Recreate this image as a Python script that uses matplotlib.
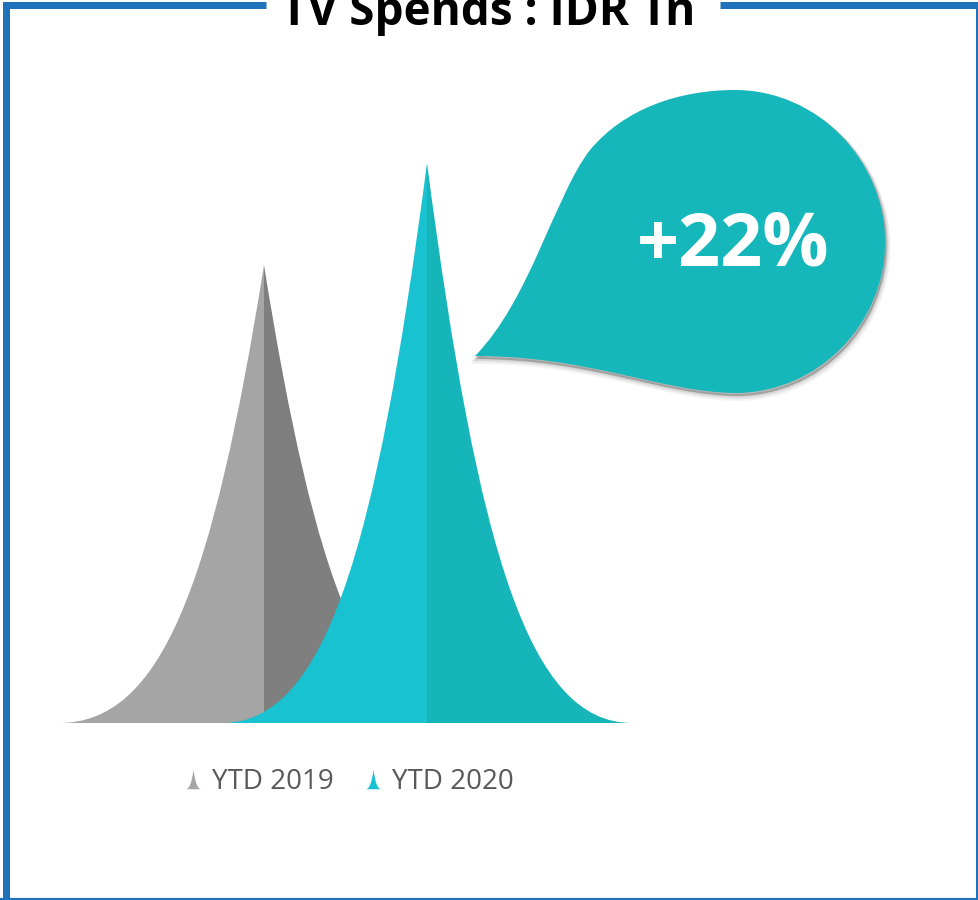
import numpy as np
import matplotlib.pyplot as plt
from matplotlib.path import Path
from matplotlib.patches import PathPatch
from matplotlib.lines import Line2D

# data: TV spends (IDR Tn)
periods = ["YTD 2019", "YTD 2020"]
spends = [45.8, 56.0]
light_colors = ["#A5A5A5", "#18C2D0"]
dark_colors = ["#7F7F7F", "#15B5BA"]

growth = (spends[1] / spends[0] - 1) * 100
growth_label = "+{:.0f}%".format(growth)

W, H = 979, 900
fig = plt.figure(figsize=(W / 100, H / 100), dpi=100)

# main axes: baseline at y=723px, 10 px per unit
ax = fig.add_axes([19.5 / W, (H - 723) / H, 652 / W, 600 / H])
ax.set_xlim(-1.5, 2.5)
ax.set_ylim(0, 60)
ax.axis("off")

# bezier profile of the spike (u = half width fraction, v = height fraction)
prof = [(1.0, 0.0), (0.5, 0.0), (0.25, 0.3), (0.0, 1.0)]
half_w = 1.258


def spike_half(xc, h, side):
    verts = [(xc, 0)]
    for u, v in prof:
        verts.append((xc + side * half_w * u, h * v))
    verts.append((xc, 0))
    codes = [Path.MOVETO, Path.LINETO, Path.CURVE4, Path.CURVE4, Path.CURVE4,
             Path.CLOSEPOLY]
    return Path(verts, codes)


for i, val in enumerate(spends):
    ax.add_patch(PathPatch(spike_half(i, val, -1), fc=light_colors[i], ec="none",
                           zorder=2 + i * 2))
    ax.add_patch(PathPatch(spike_half(i, val, 1), fc=dark_colors[i], ec="none",
                           zorder=2 + i * 2))

# overlay in pixel coords for frame and bubble
ov = fig.add_axes([0, 0, 1, 1], zorder=5)
ov.set_xlim(0, W)
ov.set_ylim(H, 0)
ov.axis("off")
ov.patch.set_alpha(0)

blue = "#1F71BA"
lw = 7 * 0.72
ov.plot([6, 6], [5, 902], color=blue, lw=lw, solid_capstyle="projecting")
ov.plot([6, 266], [5, 5], color=blue, lw=lw, solid_capstyle="butt")
ov.plot([720, 982], [5, 5], color=blue, lw=lw, solid_capstyle="butt")
ov.plot([979, 979], [5, 902], color=blue, lw=lw, solid_capstyle="butt")
ov.plot([0, 982], [900, 900], color=blue, lw=3, solid_capstyle="butt")

fig.text(488 / W, 1 - 25 / H, "TV Spends : IDR Tn", ha="center", va="baseline",
         fontsize=33, fontweight="bold", family="Open Sans", color="black")

# speech bubble
bverts = [(475, 356),
          (530, 300), (555, 195), (590, 150),
          (625, 108), (680, 90), (735, 90),
          (817, 90), (885, 160), (885, 242),
          (885, 325), (817, 393), (735, 393),
          (660, 392), (590, 356), (475, 356),
          (475, 356)]
bcodes = [Path.MOVETO] + [Path.CURVE4] * 15 + [Path.CLOSEPOLY]
bpath = Path(bverts, bcodes)

for k, a in [(5, 0.06), (4, 0.08), (3, 0.12), (2, 0.18)]:
    sh = Path(np.array(bverts) + np.array([k * 0.5, k]), bcodes)
    ov.add_patch(PathPatch(sh, fc="none", ec="#606060", lw=k * 0.9, alpha=a))
ov.add_patch(PathPatch(Path(np.array(bverts) + np.array([1.5, 3]), bcodes),
                       fc="#8a8a8a", ec="none", alpha=0.6))
ov.add_patch(PathPatch(bpath, fc="#16B7BB", ec="none"))
ov.text(733, 247, growth_label, ha="center", va="center", color="white",
        fontsize=53, fontweight="bold", family="Open Sans")

# legend with spike markers
mk = Path([(-0.42, -0.5), (-0.21, -0.5), (-0.1, -0.2), (0, 0.5), (0.1, -0.2),
           (0.21, -0.5), (0.42, -0.5), (-0.42, -0.5)],
          [Path.MOVETO, Path.CURVE4, Path.CURVE4, Path.CURVE4, Path.CURVE4,
           Path.CURVE4, Path.CURVE4, Path.CLOSEPOLY])
handles = [Line2D([], [], marker=mk, linestyle="none", markersize=14,
                  markerfacecolor=light_colors[i], markeredgecolor="none")
           for i in range(len(periods))]
fig.legend(handles, periods, loc="center", bbox_to_anchor=(348 / W, 1 - 782 / H),
           ncol=2, frameon=False, handlelength=0.8, handletextpad=0.3,
           columnspacing=1.0, labelcolor="#595959",
           prop={"family": "Open Sans", "size": 20})

fig.savefig("out.png", dpi=100)
